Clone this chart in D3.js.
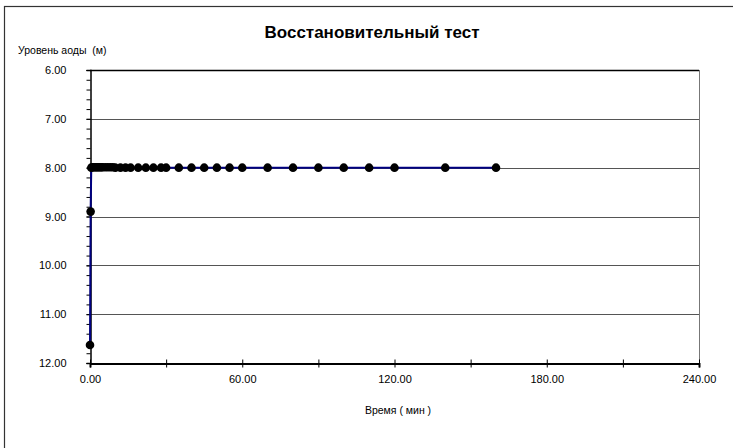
<!DOCTYPE html>
<html>
<head>
<meta charset="utf-8">
<script src="https://cdn.jsdelivr.net/npm/d3@7"></script>
<style>
  html, body { margin: 0; padding: 0; background: #fff; }
  svg { display: block; font-family: "Liberation Sans", Arial, sans-serif; }
  text { white-space: pre; }
</style>
</head>
<body>
<svg id="chart" width="733" height="448"></svg>
<script>
// Recovery test: time since pump stop (min) and water level (m)
const timeMin = [0, 0.25, 0.5, 1, 1.5, 2, 2.5, 3, 3.5, 4, 4.5, 5, 6, 7, 8, 9, 10, 12, 14, 16, 19, 22, 25, 28, 30,
                 35, 40, 45, 50, 55, 60, 70, 80, 90, 100, 110, 120, 140, 160];
const levelM  = [11.63, 8.90, 8.00, 7.99, 7.99, 7.99, 7.99, 7.99, 7.99, 7.99, 7.99, 7.99, 7.99, 7.99, 7.99, 7.99, 8.00, 8.00, 8.00, 8.00, 8.00, 8.00, 8.00, 8.00, 8.00,
                 8.00, 8.00, 8.00, 8.00, 8.00, 8.00, 8.00, 8.00, 8.00, 8.00, 8.00, 8.00, 8.00, 8.00];
const xTicks = [0, 60, 120, 180, 240];
const xMinor = [30, 90, 150, 210];
const yTicks = [6, 7, 8, 9, 10, 11, 12];

const titleText = "Восстановительный тест";
const yTitle = "Уровень аоды  (м)";
const xTitle = "Время ( мин )";

const svg = d3.select("#chart");
const W = 733, H = 448;
const plot = { left: 90, right: 699, top: 70, bottom: 363 };

// outer chart frame
svg.append("rect")
  .attr("x", 4.5).attr("y", 6.5)
  .attr("width", W + 20).attr("height", H + 20)
  .attr("fill", "none").attr("stroke", "#333").attr("stroke-width", 1.2);

const x = d3.scaleLinear().domain([0, 240]).range([plot.left, plot.right]);
const y = d3.scaleLinear().domain([6, 12]).range([plot.top, plot.bottom]);

// horizontal gridlines
svg.append("g")
  .selectAll("line")
  .data(yTicks.filter(v => v > 6 && v < 12))
  .join("line")
  .attr("x1", plot.left).attr("x2", plot.right)
  .attr("y1", d => Math.round(y(d)) + 0.5).attr("y2", d => Math.round(y(d)) + 0.5)
  .attr("stroke", "#555").attr("stroke-width", 1);

// plot border: top and right
svg.append("line")
  .attr("x1", plot.left).attr("x2", plot.right)
  .attr("y1", plot.top + 0.5).attr("y2", plot.top + 0.5)
  .attr("stroke", "#000").attr("stroke-width", 1.6);
svg.append("line")
  .attr("x1", plot.right + 0.5).attr("x2", plot.right + 0.5)
  .attr("y1", plot.top).attr("y2", plot.bottom)
  .attr("stroke", "#777").attr("stroke-width", 1);

// y axis with minor ticks
const yMinor = d3.range(6, 12.001, 0.2);
svg.append("g")
  .attr("transform", `translate(${plot.left + 0.5},0)`)
  .call(d3.axisLeft(y).tickValues(yMinor).tickSize(4).tickFormat(""))
  .call(g => g.select(".domain").attr("stroke", "#000").attr("stroke-width", 1.5));
svg.append("g")
  .attr("transform", `translate(${plot.left + 0.5},0)`)
  .call(d3.axisLeft(y).tickValues(yTicks).tickSize(4).tickPadding(20).tickFormat(d3.format(".2f")))
  .call(g => g.select(".domain").remove())
  .call(g => g.selectAll("text").attr("font-size", 11).attr("fill", "#000")
    .attr("font-family", "Liberation Sans, Arial, sans-serif"));

// x axis: ticks cross the axis line
svg.append("g")
  .attr("transform", `translate(0,${plot.bottom + 0.5})`)
  .call(d3.axisBottom(x).tickValues(xTicks.concat(xMinor)).tickSize(4).tickFormat(""))
  .call(g => g.select(".domain").attr("stroke", "#000").attr("stroke-width", 2))
  .call(g => g.selectAll(".tick line").attr("y1", -4));
svg.append("g")
  .attr("transform", `translate(0,${plot.bottom + 0.5})`)
  .call(d3.axisBottom(x).tickValues(xTicks).tickSize(0).tickPadding(12).tickFormat(d3.format(".2f")))
  .call(g => g.select(".domain").remove())
  .call(g => g.selectAll("text").attr("font-size", 11).attr("fill", "#000")
    .attr("font-family", "Liberation Sans, Arial, sans-serif"));

// series
const pts = timeMin.map((t, i) => ({ t, v: levelM[i] }));
svg.append("path")
  .datum(pts)
  .attr("fill", "none")
  .attr("stroke", "#000080")
  .attr("stroke-width", 2)
  .attr("d", d3.line().x(d => x(d.t)).y(d => y(d.v)));
svg.append("g")
  .selectAll("circle")
  .data(pts)
  .join("circle")
  .attr("cx", d => x(d.t)).attr("cy", d => y(d.v))
  .attr("r", 4.3)
  .attr("fill", "#000");

// titles
svg.append("text")
  .attr("x", 372).attr("y", 38)
  .attr("text-anchor", "middle")
  .attr("font-size", 17).attr("font-weight", "bold")
  .text(titleText);
svg.append("text")
  .attr("x", 18).attr("y", 54)
  .attr("font-size", 10.5)
  .text(yTitle);
svg.append("text")
  .attr("x", 398).attr("y", 414)
  .attr("text-anchor", "middle")
  .attr("font-size", 10.5)
  .text(xTitle);
</script>
</body>
</html>
